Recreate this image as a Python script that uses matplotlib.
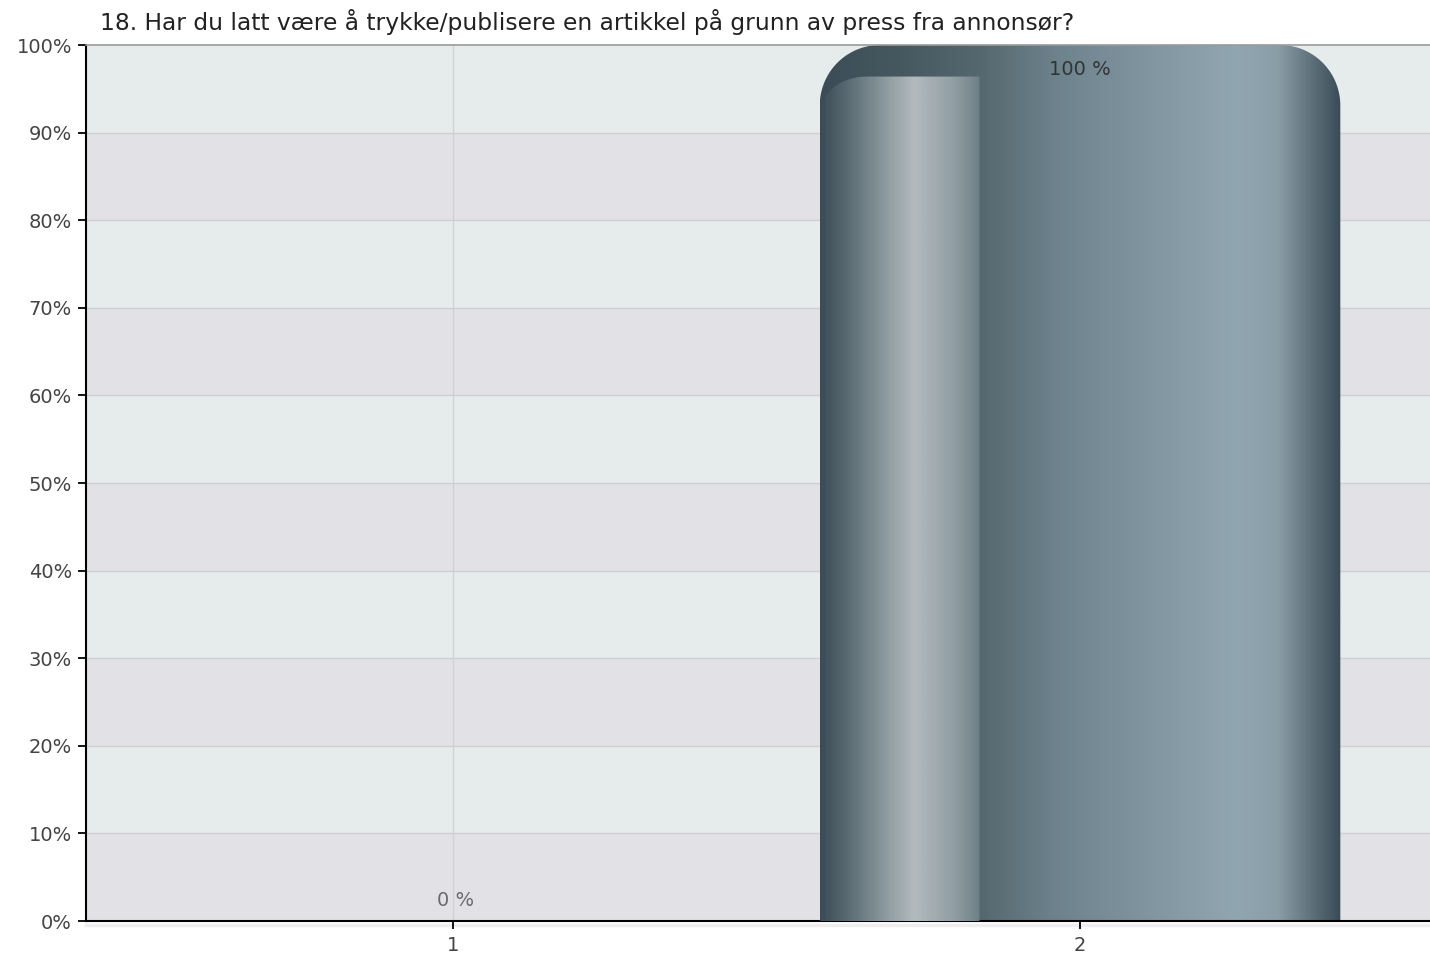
import numpy as np
import matplotlib
matplotlib.use('Agg')
from matplotlib import pyplot as plt
from matplotlib.path import Path
from matplotlib.patches import PathPatch
from matplotlib.colors import LinearSegmentedColormap

plt.rcParams['font.family'] = ['DejaVu Sans']

title = '18. Har du latt være å trykke/publisere en artikkel på grunn av press fra annonsør?'
categories = [1, 2]
values = [0, 100]
value_labels = ['0 %', '100 %']
bar_width = 0.83

# bar shading, left to right
main_stops = [(0.0, '#3b4c57'), (0.05, '#5a6a72'), (0.12, '#8a989d'), (0.18, '#b3bbbe'),
              (0.26, '#8f9da2'), (0.305, '#6f8088'), (0.31, '#5a6e78'), (0.45, '#6c828c'),
              (0.6, '#7e929d'), (0.8, '#90a6b0'), (0.88, '#8a9ea8'), (0.95, '#5b6e78'),
              (1.0, '#3b4c57')]
top_stops = [(0.0, '#3b4c57'), (0.15, '#46585f'), (0.31, '#56686f'), (0.45, '#6c828c'),
             (0.6, '#7e929d'), (0.8, '#90a6b0'), (0.88, '#8a9ea8'), (0.95, '#5b6e78'),
             (1.0, '#3b4c57')]
main_cmap = LinearSegmentedColormap.from_list('main', main_stops)
top_cmap = LinearSegmentedColormap.from_list('top', top_stops)


def rounded_top(x0, x1, y0, y1, rx, ry, n=30):
    t = np.linspace(np.pi, np.pi / 2, n)
    left = np.column_stack([x0 + rx + rx * np.cos(t), y1 - ry + ry * np.sin(t)])
    t = np.linspace(np.pi / 2, 0, n)
    right = np.column_stack([x1 - rx + rx * np.cos(t), y1 - ry + ry * np.sin(t)])
    pts = np.vstack([[x0, y0], left, right, [x1, y0], [x0, y0]])
    return Path(pts, closed=True)


def rounded_topleft(x0, x1, y0, y1, rx, ry, n=30):
    t = np.linspace(np.pi, np.pi / 2, n)
    left = np.column_stack([x0 + rx + rx * np.cos(t), y1 - ry + ry * np.sin(t)])
    pts = np.vstack([[x0, y0], left, [x1, y1], [x1, y0], [x0, y0]])
    return Path(pts, closed=True)


fig = plt.figure(figsize=(14.3, 9.6), dpi=100)
ax = fig.add_axes([0.0601, 0.0406, 0.9399, 0.9125])
ax.set_xlim(0.415, 2.558)
ax.set_ylim(0, 100)

# alternating bands
for i in range(10):
    ax.axhspan(i * 10, i * 10 + 10, color='#e2e1e6' if i % 2 == 0 else '#e6ebeb', zorder=0, lw=0)
for y in range(10, 100, 10):
    ax.axhline(y, color='#cfcfd2', lw=1, zorder=1)
for x in categories:
    ax.axvline(x, color='#d2d2d4', lw=1, zorder=1)

# soft shadow under the x axis
ax.axhline(-0.45, color='#eeeeee', lw=2.5, zorder=0, clip_on=False)

grad = np.linspace(0, 1, 256).reshape(1, -1)
for x, v, lab in zip(categories, values, value_labels):
    if v > 0:
        x0, x1 = x - bar_width / 2, x + bar_width / 2
        clip = PathPatch(rounded_top(x0, x1, 0, v, 0.096, 6.9), facecolor='none', edgecolor='none')
        ax.add_patch(clip)
        im = ax.imshow(grad, cmap=top_cmap, extent=(x0, x1, 0, v), aspect='auto', zorder=2)
        im.set_clip_path(clip)
        # lighter inner panel on the left
        ix1 = x0 + 0.307 * bar_width
        inner = PathPatch(rounded_topleft(x0, ix1, 0, v - 3.6, 0.075, 4.2), facecolor='none', edgecolor='none')
        ax.add_patch(inner)
        sub = main_cmap(np.linspace(0.0, 0.307, 128)).reshape(1, -1, 4)
        im2 = ax.imshow(sub, extent=(x0, ix1, 0, v), aspect='auto', zorder=3)
        im2.set_clip_path(inner)
        ax.text(x, v - 2.8, lab, ha='center', va='center', fontsize=14, color='#333333', zorder=5)
    else:
        ax.text(x + 0.005, v + 2.4, lab, ha='center', va='center', fontsize=14, color='#6b6b6b', zorder=5)

ax.set_xticks(categories)
ax.set_xticklabels([str(c) for c in categories])
ax.set_yticks(range(0, 101, 10))
ax.set_yticklabels([f'{t}%' for t in range(0, 101, 10)])
ax.tick_params(axis='y', direction='out', length=6, width=1.3, color='black', labelsize=14, labelcolor='#444444', pad=4)
ax.tick_params(axis='x', direction='out', length=6, width=1.3, color='black', labelsize=14, labelcolor='#444444', pad=5)

ax.spines['left'].set_color('black')
ax.spines['left'].set_linewidth(1.5)
ax.spines['bottom'].set_color('black')
ax.spines['bottom'].set_linewidth(1.5)
ax.spines['top'].set_color('#9a9a9a')
ax.spines['top'].set_linewidth(1.2)
ax.spines['right'].set_visible(False)

fig.text(100 / 1430, 1 - 22 / 960, title, ha='left', va='center', fontsize=16.8, color='#222222')

fig.savefig('out.png', dpi=100)
